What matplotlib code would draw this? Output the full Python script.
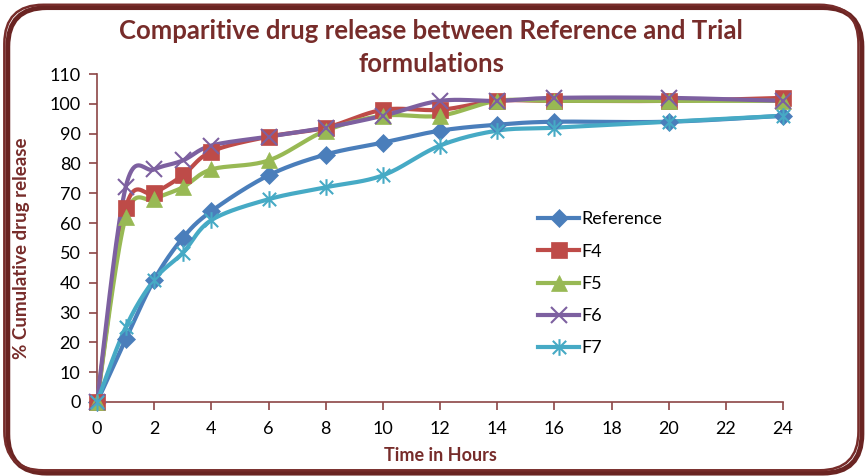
import numpy as np
import matplotlib
matplotlib.use("Agg")
import matplotlib.pyplot as plt
from matplotlib.patches import FancyBboxPatch
from matplotlib.path import Path

hours = [0, 1, 2, 3, 4, 6, 8, 10, 12, 14, 16, 20, 24]
reference = [0, 21, 41, 55, 64, 76, 83, 87, 91, 93, 94, 94, 96]
f4 = [0, 65, 70, 76, 84, 89, 92, 98, 98, 101, 101, 101, 102]
f5 = [0, 62, 68, 72, 78, 81, 91, 96, 96, 101, 101, 101, 101]
f6 = [0, 72, 78, 81, 86, 89, 92, 96, 101, 101, 102, 102, 101]
f7 = [0, 25, 41, 50, 61, 68, 72, 76, 86, 91, 92, 94, 96]

series_names = ["Reference", "F4", "F5", "F6", "F7"]
series_values = [reference, f4, f5, f6, f7]
colors = ["#4A7EBB", "#BE4B48", "#98B954", "#7D60A0", "#46AAC5"]

star = Path([(0, -1), (0, 1), (-0.8, -0.8), (0.8, 0.8), (-0.8, 0.8), (0.8, -0.8)],
            [Path.MOVETO, Path.LINETO, Path.MOVETO, Path.LINETO, Path.MOVETO, Path.LINETO])
markers = ["D", "s", "^", "x", star]
msizes = [9, 11, 11, 11, 12]

title = "Comparitive drug release between Reference and Trial\nformulations"
xlabel = "Time in Hours"
ylabel = "% Cumulative drug release"
dark_red = "#772C2A"
axis_col = "#8C4646"

plt.rcParams['font.family'] = ['Lato', 'DejaVu Sans']


def smooth(x, y, n=20):
    """Parametric Catmull-Rom smoothing, similar to a spreadsheet's smoothed line."""
    x = np.asarray(x, float)
    y = np.asarray(y, float)
    P = np.column_stack([x, y])
    P = np.vstack([P[0], P, P[-1]])
    out = []
    t = np.linspace(0, 1, n, endpoint=False)
    for i in range(1, len(P) - 2):
        p0, p1, p2, p3 = P[i - 1], P[i], P[i + 1], P[i + 2]
        c1 = p1 + (p2 - p0) / 6.0
        c2 = p2 - (p3 - p1) / 6.0
        tt = t[:, None]
        seg = ((1 - tt) ** 3) * p1 + 3 * ((1 - tt) ** 2) * tt * c1 + 3 * (1 - tt) * tt ** 2 * c2 + tt ** 3 * p2
        out.append(seg)
    out.append(P[-2][None, :])
    out = np.vstack(out)
    return out[:, 0], out[:, 1]


fig = plt.figure(figsize=(8.68, 4.76), dpi=100)
# border with slight shadow on bottom/right
shadow = FancyBboxPatch((0.009, 0.006), 0.984, 0.978, boxstyle="round,pad=0,rounding_size=0.045",
                        transform=fig.transFigure, facecolor="none", edgecolor="#6A2422",
                        linewidth=3.5, mutation_aspect=868 / 476)
border = FancyBboxPatch((0.005, 0.012), 0.984, 0.978, boxstyle="round,pad=0,rounding_size=0.045",
                        transform=fig.transFigure, facecolor="none", edgecolor=dark_red,
                        linewidth=1.8, mutation_aspect=868 / 476)
fig.patches.extend([shadow, border])

ax = fig.add_axes([0.1118, 0.1555, 0.7903, 0.689])
ax.set_facecolor("none")

handles = []
for name, vals, c, m, ms in zip(series_names, series_values, colors, markers, msizes):
    sx, sy = smooth(hours, vals)
    ax.plot(sx, sy, color=c, lw=3, solid_capstyle="round", clip_on=False, zorder=3)
    mew = 1.5 if (m is star or m == "x") else 0.5
    ax.plot(hours, vals, linestyle="none", marker=m, color=c, markersize=ms,
            markeredgecolor=c, markeredgewidth=mew, clip_on=False, zorder=4)
    h, = ax.plot([], [], color=c, lw=3, marker=m, markersize=ms, markeredgecolor=c,
                 markeredgewidth=mew, label=name)
    handles.append(h)

ax.set_xlim(0, 24)
ax.set_ylim(0, 110)
ax.set_xticks(range(0, 25, 2))
ax.set_yticks(range(0, 111, 10))
for s in ["top", "right"]:
    ax.spines[s].set_visible(False)
for s in ["left", "bottom"]:
    ax.spines[s].set_color(axis_col)
    ax.spines[s].set_linewidth(1.2)
ax.tick_params(axis="both", colors=axis_col, labelcolor="black", labelsize=13,
               length=6, width=1.2, direction="out")
ax.tick_params(axis="x", pad=8)
ax.tick_params(axis="y", pad=6)

fig.text(0.497, 0.900, title, ha="center", va="center", fontsize=18.5, fontweight="bold",
         color=dark_red, linespacing=1.45)
fig.text(0.507, 0.043, xlabel, ha="center", va="center", fontsize=13, fontweight="bold",
         color=dark_red)
fig.text(0.025, 0.479, ylabel, ha="center", va="center", rotation=90, fontsize=13.5,
         fontweight="bold", color=dark_red)

leg = ax.legend(handles=handles, loc="upper left", bbox_to_anchor=(0.632, 0.603),
                frameon=False, fontsize=13, handlelength=2.3, labelspacing=0.9,
                handletextpad=0.1, borderaxespad=0)

fig.savefig("out.png", dpi=100)
